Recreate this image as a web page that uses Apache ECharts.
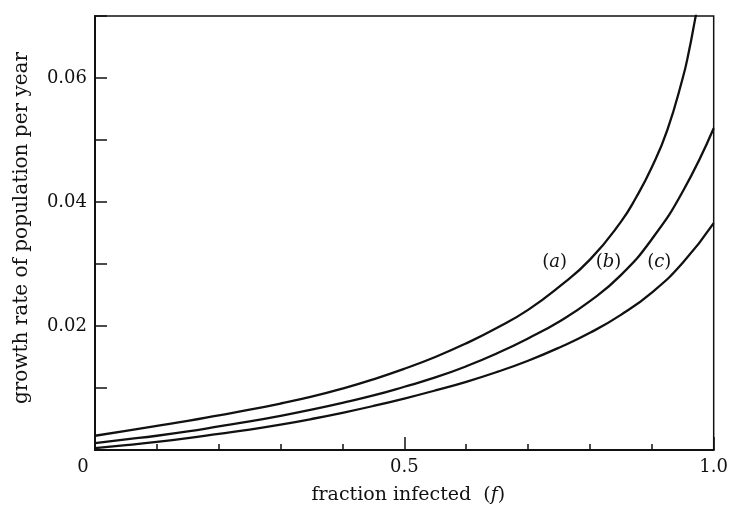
<!DOCTYPE html>
<html>
<head>
<meta charset="utf-8">
<script src="https://cdn.jsdelivr.net/npm/echarts@6/dist/echarts.min.js"></script>
<style>
  html, body { margin: 0; padding: 0; background: #fff; }
  #chart { width: 731px; height: 513px; }
</style>
</head>
<body>
<div id="chart"></div>
<script>
// fraction infected, f
const fA = [0, 0.05, 0.1, 0.15, 0.2, 0.25, 0.3, 0.35, 0.4, 0.45, 0.5, 0.55, 0.6, 0.65, 0.7, 0.75, 0.8, 0.85, 0.875, 0.9, 0.925, 0.95, 0.96, 0.97, 0.975];
const fBC = [0, 0.05, 0.1, 0.15, 0.2, 0.25, 0.3, 0.35, 0.4, 0.45, 0.5, 0.55, 0.6, 0.65, 0.7, 0.75, 0.8, 0.85, 0.9, 0.95, 1.0];

// growth rate of population per year, curves (a), (b), (c)
const rateA = [0.0023, 0.0031, 0.0039, 0.0047, 0.0056, 0.0065, 0.0075, 0.0086, 0.0099, 0.0114, 0.0131, 0.0150, 0.0172, 0.0197, 0.0226, 0.0263, 0.0307, 0.0368, 0.0408, 0.0456, 0.0516, 0.0600, 0.0643, 0.0695, 0.0720];
const rateB = [0.0011, 0.0017, 0.0023, 0.0030, 0.0038, 0.0046, 0.0055, 0.0065, 0.0076, 0.0088, 0.0102, 0.0117, 0.0135, 0.0156, 0.0180, 0.0207, 0.0240, 0.0282, 0.0340, 0.0417, 0.0519];
const rateC = [0.0003, 0.0008, 0.0013, 0.0019, 0.0026, 0.0033, 0.0041, 0.0050, 0.0060, 0.0071, 0.0083, 0.0096, 0.0110, 0.0126, 0.0144, 0.0165, 0.0189, 0.0218, 0.0254, 0.0302, 0.0366];

const curveNames = ['a', 'b', 'c'];
// where each curve's name is written, in chart units
const nameSpots = [[0.743, 0.0302], [0.830, 0.0302], [0.912, 0.0302]];

const FONT = '"DejaVu Serif", "Liberation Serif", serif';
const INK = '#111';

function pairs(xs, ys) { return xs.map((x, i) => [x, ys[i]]); }

function curve(xs, ys) {
  return {
    type: 'line',
    data: pairs(xs, ys),
    smooth: 0.5,
    showSymbol: false,
    symbol: 'none',
    clip: true,
    lineStyle: { color: INK, width: 2.3 },
    silent: true,
    animation: false
  };
}

const chart = echarts.init(document.getElementById('chart'), null, { renderer: 'canvas' });

chart.setOption({
  backgroundColor: '#fff',
  animation: false,
  grid: {
    left: 95, right: 13, top: 16, bottom: 63,
    show: true, borderColor: INK, borderWidth: 1.5, backgroundColor: 'transparent'
  },
  xAxis: {
    type: 'value', min: 0, max: 1, interval: 0.5,
    name: 'fraction infected  {p|(}{it|f}{p|)}',
    nameLocation: 'middle', nameGap: 36,
    nameTextStyle: {
      fontFamily: FONT, fontSize: 19, color: INK, padding: [0, 0, 0, 8],
      rich: {
        p: { fontFamily: FONT, fontSize: 19, color: INK },
        it: { fontFamily: FONT, fontSize: 19, fontStyle: 'italic', color: INK }
      }
    },
    axisLine: { show: true, lineStyle: { color: INK, width: 2 } },
    axisTick: { show: true, inside: true, length: 13, lineStyle: { color: INK, width: 1.5 } },
    minorTick: { show: true, splitNumber: 5, length: 6, lineStyle: { color: INK, width: 1.5 } },
    splitLine: { show: false },
    axisLabel: {
      margin: 8, fontFamily: FONT, fontSize: 18, color: INK,
      formatter: v => v === 0 ? '{o|0}' : v.toFixed(1),
      rich: { o: { fontFamily: FONT, fontSize: 18, color: INK, padding: [0, 24, 0, 0] } }
    }
  },
  yAxis: {
    type: 'value', min: 0, max: 0.07, interval: 0.01,
    name: 'growth rate of population per year',
    nameLocation: 'middle', nameGap: 63,
    nameTextStyle: { fontFamily: FONT, fontSize: 20, color: INK, padding: [0, 0, 0, 10] },
    axisLine: { show: true, lineStyle: { color: INK, width: 2 } },
    axisTick: { show: true, inside: true, length: 12, lineStyle: { color: INK, width: 1.5 } },
    splitLine: { show: false },
    axisLabel: {
      margin: 8, fontFamily: FONT, fontSize: 18, color: INK,
      formatter: v => {
        const r = Math.round(v * 100);
        return (r > 0 && r % 2 === 0) ? v.toFixed(2) : '';
      }
    }
  },
  series: [
    curve(fA, rateA),
    curve(fBC, rateB),
    curve(fBC, rateC),
    {
      type: 'scatter',
      symbolSize: 0,
      silent: true,
      itemStyle: { opacity: 1 },
      data: nameSpots.map((p, i) => ({ value: p, name: curveNames[i] })),
      label: {
        show: true, position: 'inside', opacity: 1, color: INK,
        formatter: p => '{p|(}{it|' + p.name + '}{p|)}',
        rich: {
          p: { fontFamily: FONT, fontSize: 18, color: INK },
          it: { fontFamily: FONT, fontSize: 18, fontStyle: 'italic', color: INK }
        }
      }
    }
  ]
});
</script>
</body>
</html>
